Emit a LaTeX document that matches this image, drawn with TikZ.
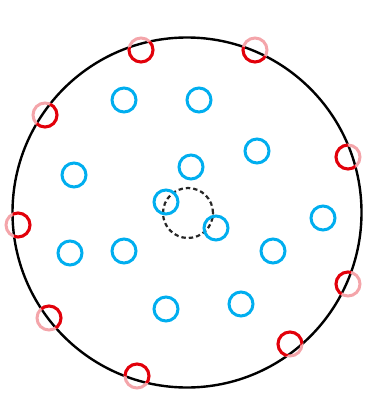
\documentclass[tikz,border=0pt]{standalone}
\usepackage{tikz}
\definecolor{ptblue}{RGB}{0,174,239}
\definecolor{ptred}{RGB}{226,0,10}
\definecolor{ptpink}{RGB}{244,165,170}

\begin{document}
\begin{tikzpicture}[x=0.5pt, y=-0.5pt,
    ring/.style={draw=black, line width=1.2pt},
    probe/.style={circle, draw=black!85, dash pattern=on 2.2pt off 1.5pt,
                  line width=1.1pt, minimum size=25pt, inner sep=0pt},
    pt/.style={circle, draw=ptblue, line width=1.5pt, minimum size=12pt,
               inner sep=0pt},
    edgein/.style={pt, draw=ptred},
    edgeout/.style={pt, draw=ptpink}
  ]
  \useasboundingbox (0,0) rectangle (366,396);
  \coordinate (c) at (187,212.5);

  % outer boundary
  \draw[ring] (c) circle [x radius=174.5, y radius=175];

  % dashed probe region
  \node[probe] (probe) at (188,213) {};

  % interior points
  \node[pt] (b1)  at (124,100) {};
  \node[pt] (b2)  at (199,100) {};
  \node[pt] (b3)  at (74,175)  {};
  \node[pt] (b4)  at (191,167) {};
  \node[pt] (b5)  at (257,151) {};
  \node[pt] (b6)  at (166,202) {};
  \node[pt] (b7)  at (216,228) {};
  \node[pt] (b8)  at (323,218) {};
  \node[pt] (b9)  at (70,253)  {};
  \node[pt] (b10) at (124,251) {};
  \node[pt] (b11) at (273,251) {};
  \node[pt] (b12) at (166,309) {};
  \node[pt] (b13) at (241,304) {};

  % boundary points, outer part
  \node[edgeout] (o1) at (141,50)  {};
  \node[edgeout] (o2) at (255,50)  {};
  \node[edgeout] (o3) at (45,115)  {};
  \node[edgeout] (o4) at (348,157) {};
  \node[edgeout] (o5) at (18,225)  {};
  \node[edgeout] (o6) at (348,284) {};
  \node[edgeout] (o7) at (49,318)  {};
  \node[edgeout] (o8) at (290,344) {};
  \node[edgeout] (o9) at (137,376) {};

  % boundary points, inner part
  \begin{scope}
    \clip (c) circle [x radius=174.5, y radius=175];
    \node[edgein] (r1) at (o1) {};
    \node[edgein] (r2) at (o2) {};
    \node[edgein] (r3) at (o3) {};
    \node[edgein] (r4) at (o4) {};
    \node[edgein] (r5) at (o5) {};
    \node[edgein] (r6) at (o6) {};
    \node[edgein] (r7) at (o7) {};
    \node[edgein] (r8) at (o8) {};
    \node[edgein] (r9) at (o9) {};
  \end{scope}
\end{tikzpicture}
\end{document}
